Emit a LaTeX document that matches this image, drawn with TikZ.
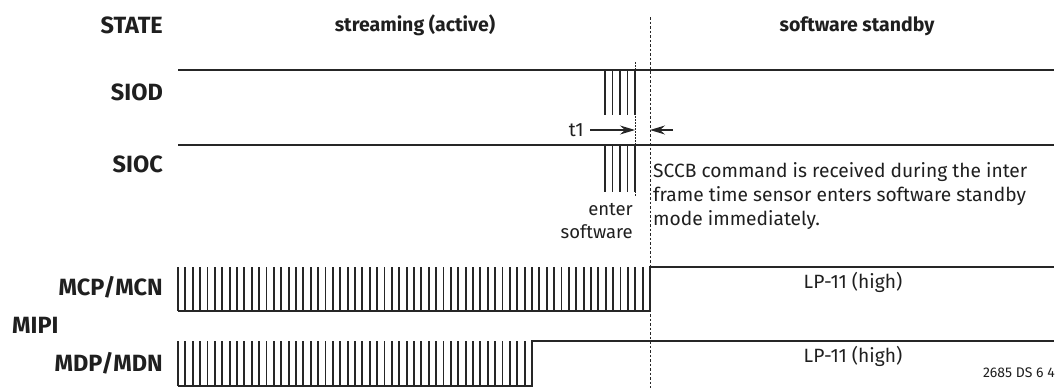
\documentclass[tikz,border=0pt]{standalone}
\usepackage{fontspec}
\setmainfont{Fira Sans}
\usetikzlibrary{arrows.meta}
\begin{document}
\begin{tikzpicture}[x=1pt,y=-1pt,
  ink/.style={draw=black!85},
  lab/.style={font=\bfseries\fontsize{23.5}{26}\selectfont, text=black!88, anchor=base east, inner sep=0},
  hdr/.style={font=\bfseries\fontsize{19.5}{24}\selectfont, text=black!88, anchor=base, inner sep=0},
  txt/.style={font=\fontsize{19.2}{23}\selectfont, text=black!88, inner sep=0},
  sig/.style={ink, line width=2.6pt},
  pulse/.style={ink, line width=1.9pt},
  dashA/.style={ink, line width=0.9pt, dash pattern=on 2.5pt off 2pt},
  dashB/.style={ink, line width=0.7pt, dash pattern=on 1.5pt off 1.5pt},
  arr/.style={ink, line width=1.2pt, -{Stealth[length=15pt,width=9pt,inset=5pt]}}]
\useasboundingbox (0,0) rectangle (1058,388);

% labels
\node[lab] (state) at (163,33) {STATE};
\node[lab] (siod) at (163,100) {SIOD};
\node[lab] (sioc) at (163,172) {SIOC};
\node[lab] (mcp) at (163,295) {MCP/MCN};
\node[lab, anchor=base west] (mipi) at (12,333) {MIPI};
\node[lab] (mdp) at (163,371) {MDP/MDN};
\node[hdr] (stream) at (415,31) {streaming (active)};
\node[hdr] (standby) at (857,31) {software standby};

% dashed state boundaries
\draw[dashA] (650,17) -- (650,388);
\draw[dashB] (635,62) -- (635,197);

% SIOD
\draw[sig] (178,70) -- (1054,70);
\foreach \i in {0,...,4} \draw[pulse] ({605+\i*7.5},70) -- ({605+\i*7.5},115);
% SIOC
\draw[sig] (178,145) -- (1054,145);
\foreach \i in {0,...,4} \draw[pulse] ({605+\i*7.5},145) -- ({605+\i*7.5},192);

% t1 arrows
\coordinate (t1s) at (590,130);
\coordinate (t1e) at (635,130);
\coordinate (t2s) at (673,130);
\coordinate (t2e) at (650,130);
\draw[arr] (t1s) -- (t1e);
\draw[arr] (t2s) -- (t2e);
\node[txt, anchor=base east] (t1) at (584,136) {t1};

% enter software
\node[txt, font=\fontsize{18.5}{22}\selectfont, anchor=base east] (enter) at (633,215) {enter};
\node[txt, font=\fontsize{18.5}{22}\selectfont, anchor=base east] (sw) at (633,238) {software};

% SCCB note
\node[txt, anchor=base west] (n1) at (653,177) {SCCB command is received during the inter};
\node[txt, anchor=base west] (n2) at (653,201) {frame time sensor enters software standby};
\node[txt, anchor=base west] (n3) at (653,225) {mode immediately.};

% MCP/MCN
\draw[sig] (178,311) -- (650,311) -- (650,267) -- (1054,267);
\foreach \i in {0,...,63} \draw[pulse] ({178+\i*7.375},311) -- ({178+\i*7.375},267);
\node[txt, anchor=base] (lp1) at (853,288) {LP-11 (high)};

% MDP/MDN
\draw[sig] (178,386) -- (532,386) -- (532,341) -- (1054,341);
\foreach \i in {0,...,47} \draw[pulse] ({178+\i*7.375},386) -- ({178+\i*7.375},341);
\node[txt, anchor=base] (lp2) at (853,362) {LP-11 (high)};

\node[font=\fontsize{14}{16}\selectfont, text=black!88, anchor=base east, inner sep=0] (ref) at (1055,377) {2685 DS 6 4};
\end{tikzpicture}
\end{document}
